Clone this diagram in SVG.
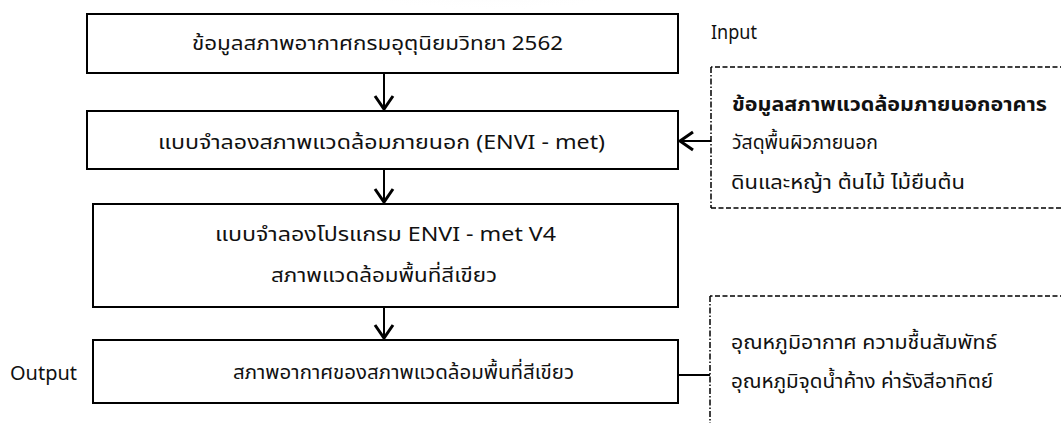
<svg xmlns="http://www.w3.org/2000/svg" width="1061" height="423" viewBox="0 0 1061 423">
<defs>
<marker id="arr" viewBox="-17 -11 19 22" refX="0" refY="0" markerWidth="19" markerHeight="22" markerUnits="userSpaceOnUse" orient="auto">
<path d="M-14,-9 L-1,0 L-14,9" fill="none" stroke="#000" stroke-width="3" stroke-linejoin="miter"/>
</marker>
<radialGradient id="wm" cx="0.5" cy="0.2" r="0.6">
<stop offset="0" stop-color="#ececec"/>
<stop offset="1" stop-color="#ffffff" stop-opacity="0"/>
</radialGradient>
</defs>
<style>
.box{fill:#fff;stroke:#000;stroke-width:2}
.dash{fill:none;stroke:#000;stroke-width:1.5;stroke-dasharray:5 2.5}
.dashv{fill:none;stroke:#000;stroke-width:1.5;stroke-dasharray:6 2 1.5 2}
.t{font-family:"Noto Sans Thai","Noto Sans",sans-serif;font-size:20px;fill:#111}
.l{font-size:19px}
.b{font-weight:bold}
.con{fill:none;stroke:#000;stroke-width:2}
</style>
<rect width="1061" height="423" fill="#fff"/>
<ellipse cx="490" cy="-10" rx="170" ry="34" fill="url(#wm)"/>
<g id="box1"><rect class="box" x="87" y="14" width="591" height="59"/><text class="t" x="192" y="50" textLength="371" lengthAdjust="spacingAndGlyphs">ข้อมูลสภาพอากาศกรมอุตุนิยมวิทยา  2562</text></g>
<g id="box2"><rect class="box" x="87" y="111" width="591" height="58"/><text class="t" x="158" y="149" textLength="447" lengthAdjust="spacingAndGlyphs">แบบจำลองสภาพแวดล้อมภายนอก  (ENVI - met)</text></g>
<g id="box3"><rect class="box" x="93" y="204" width="585" height="103"/><text class="t" x="215" y="241" textLength="341" lengthAdjust="spacingAndGlyphs">แบบจำลองโปรแกรม  ENVI - met V4</text><text class="t" x="271" y="282" textLength="226" lengthAdjust="spacingAndGlyphs">สภาพแวดล้อมพื้นที่สีเขียว</text></g>
<g id="box4"><rect class="box" x="93" y="340" width="585" height="63"/><text class="t" x="233" y="379" textLength="341" lengthAdjust="spacingAndGlyphs">สภาพอากาศของสภาพแวดล้อมพื้นที่สีเขียว</text></g>
<g id="input-label"><text class="t l" x="711" y="39" textLength="46" lengthAdjust="spacingAndGlyphs">Input</text></g>
<g id="output-label"><text class="t l" x="10" y="380" textLength="67" lengthAdjust="spacingAndGlyphs">Output</text></g>
<g id="input-box">
<path class="dash" d="M1065,67 H711 M711,208 H1065"/>
<path class="dashv" d="M711,67 V208"/>
<text class="t b" x="732" y="111" textLength="315" lengthAdjust="spacingAndGlyphs">ข้อมูลสภาพแวดล้อมภายนอกอาคาร</text>
<text class="t" x="732" y="149" textLength="146" lengthAdjust="spacingAndGlyphs">วัสดุพื้นผิวภายนอก</text>
<text class="t" x="731" y="189" textLength="234" lengthAdjust="spacingAndGlyphs">ดินและหญ้า ต้นไม้ ไม้ยืนต้น</text>
</g>
<g id="output-box">
<path class="dash" d="M1065,296 H710"/>
<path class="dashv" d="M710,296 V430"/>
<text class="t" x="731" y="349" textLength="266" lengthAdjust="spacingAndGlyphs">อุณหภูมิอากาศ ความชื้นสัมพัทธ์</text>
<text class="t" x="731" y="388" textLength="262" lengthAdjust="spacingAndGlyphs">อุณหภูมิจุดน้ำค้าง ค่ารังสีอาทิตย์</text>
</g>
<g id="connectors">
<line class="con" x1="384" y1="73" x2="384" y2="110" marker-end="url(#arr)"/>
<line class="con" x1="384" y1="169" x2="384" y2="203" marker-end="url(#arr)"/>
<line class="con" x1="384" y1="307" x2="384" y2="339" marker-end="url(#arr)"/>
<line class="con" x1="711" y1="141" x2="679" y2="141" marker-end="url(#arr)"/>
<line class="con" x1="678" y1="375" x2="710" y2="375"/>
</g>
</svg>
